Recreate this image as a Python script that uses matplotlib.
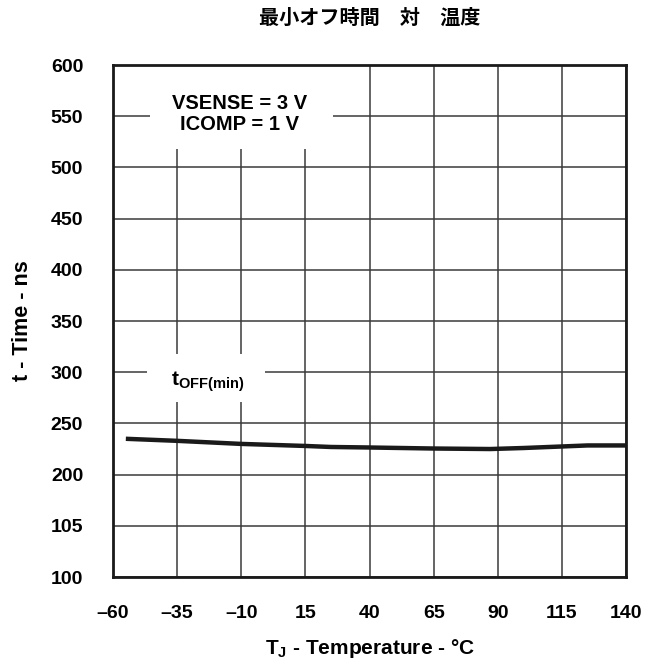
import matplotlib.pyplot as plt
from matplotlib.patches import Rectangle

plt.rcParams['font.family'] = ['Liberation Sans', 'Noto Sans CJK JP', 'DejaVu Sans']
plt.rcParams['mathtext.fontset'] = 'custom'
plt.rcParams['mathtext.rm'] = 'Liberation Sans'
plt.rcParams['mathtext.bf'] = 'Liberation Sans:bold'

# data
temp_c = [-55, -35, -10, 15, 25, 40, 65, 87, 100, 115, 125, 140]
toff_ns = [235, 233, 230, 228, 227, 226.5, 225.5, 225, 226, 227.5, 228.5, 228.5]

x_ticks = [-60, -35, -10, 15, 40, 65, 90, 115, 140]
x_labels = ['–60', '–35', '–10', '15', '40', '65', '90', '115', '140']
y_ticks = [100, 150, 200, 250, 300, 350, 400, 450, 500, 550, 600]
y_labels = ['100', '105', '200', '250', '300', '350', '400', '450', '500', '550', '600']

fig = plt.figure(figsize=(6.54, 6.64), dpi=100)
ax = fig.add_axes([0.1728, 0.131, 0.7845, 0.771])

ax.plot(temp_c, toff_ns, color='#1a1a1a', lw=3.2, solid_capstyle='butt', zorder=2)

ax.set_xlim(-60, 140)
ax.set_ylim(100, 600)
ax.set_xticks(x_ticks)
ax.set_xticklabels(x_labels)
ax.set_yticks(y_ticks)
ax.set_yticklabels(y_labels)
ax.tick_params(length=0, labelsize=14)
ax.tick_params(axis='x', pad=20)
ax.tick_params(axis='y', pad=21.5)
for lab in ax.get_xticklabels() + ax.get_yticklabels():
    lab.set_fontweight('bold')

ax.set_axisbelow(True)
ax.grid(True, color='#3a3a3a', lw=1.1)
for s in ax.spines.values():
    s.set_linewidth(2)
    s.set_color('#1a1a1a')

# white boxes behind the annotations
ax.add_patch(Rectangle((0.072, 0.836), 0.357, 0.164, transform=ax.transAxes,
                       facecolor='white', edgecolor='none', zorder=1))
ax.add_patch(Rectangle((0.066, 0.342), 0.23, 0.094, transform=ax.transAxes,
                       facecolor='white', edgecolor='none', zorder=1))

ax.text(-10.5, 552.5, 'VSENSE = 3 V\nICOMP = 1 V', ha='center', va='center',
        fontsize=14.5, fontweight='bold', linespacing=1.15, zorder=3)
ax.text(-37.5, 291, r'$\mathbf{t}_{\mathbf{OFF(min)}}$', ha='left', va='center',
        fontsize=15, zorder=3)

ax.set_xlabel(r'$\mathbf{T_J}$ - Temperature - °C', fontsize=15, fontweight='bold', labelpad=11)
ax.set_ylabel('t - Time - ns', fontsize=15.5, fontweight='bold', labelpad=12.5)
ax.set_title('最小オフ時間　対　温度', family=['Noto Sans CJK JP', 'DejaVu Sans'],
             fontsize=14.5, fontweight='bold', pad=30)

fig.savefig('out.png', dpi=100)
